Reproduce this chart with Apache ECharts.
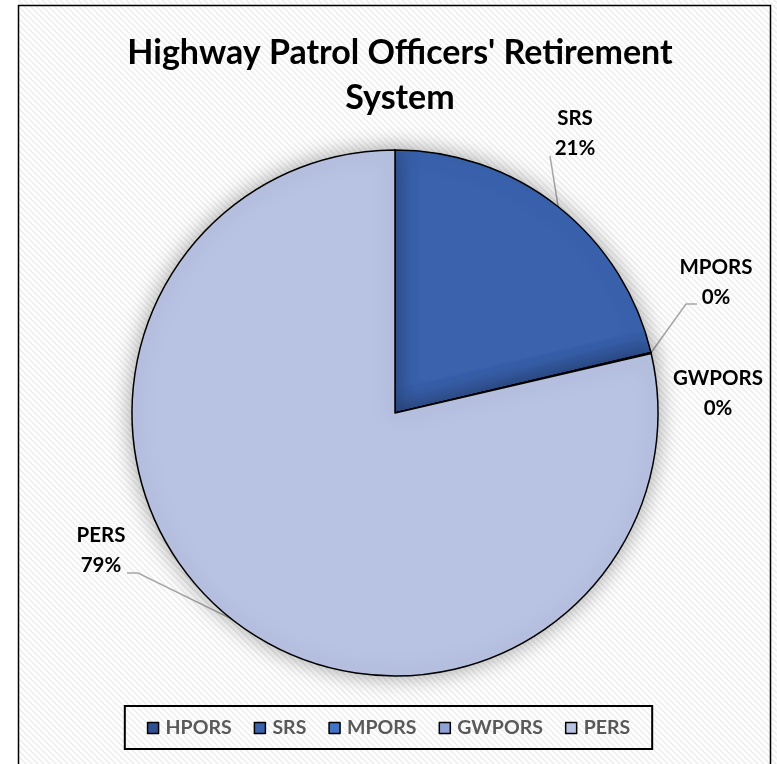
<!DOCTYPE html>
<html>
<head>
<meta charset="utf-8">
<script src="https://cdn.jsdelivr.net/npm/echarts@6/dist/echarts.min.js"></script>
<style>
  html, body { margin: 0; padding: 0; background: #fff; }
  #chart { width: 777px; height: 764px; }
</style>
</head>
<body>
<div id="chart"></div>
<script>
  // data
  const systems = ['HPORS', 'SRS', 'MPORS', 'GWPORS', 'PERS']
  const shares = [0, 21.3, 0.03, 0.03, 78.6]
  const colors = ['#2f5192', '#3a62ad', '#4472c4', '#8fa2d6', '#b8c2e2']

  const font = 'Lato'

  // where each slice label sits, and whether a leader line bends
  const labelSpots = {
    SRS: { x: 575, y: 133, line: 'straight', end: [550, 156] },
    MPORS: { x: 716, y: 282, line: 'bent', end: [686, 304], tail: [697, 304] },
    GWPORS: { x: 718, y: 393, line: 'none' },
    PERS: { x: 101, y: 550, line: 'bent', end: [138, 573], tail: [127, 573] }
  }

  // faint diagonal hatch like the excel chart area
  function hatch() {
    const c = document.createElement('canvas')
    c.width = 6
    c.height = 6
    const ctx = c.getContext('2d')
    ctx.fillStyle = '#ffffff'
    ctx.fillRect(0, 0, 6, 6)
    ctx.strokeStyle = '#efefef'
    ctx.lineWidth = 1.6
    ctx.beginPath()
    ctx.moveTo(-3, -3); ctx.lineTo(9, 9)
    ctx.moveTo(-3, 3); ctx.lineTo(3, 9)
    ctx.moveTo(3, -3); ctx.lineTo(9, 3)
    ctx.stroke()
    return c
  }

  const chart = echarts.init(document.getElementById('chart'), null, { renderer: 'canvas' })

  const pieData = systems.map((name, i) => ({
    name,
    value: shares[i],
    itemStyle: { color: colors[i] },
    label: { show: shares[i] > 0 },
    labelLine: { show: shares[i] > 0 && labelSpots[name] && labelSpots[name].line !== 'none' }
  }))

  chart.setOption({
    backgroundColor: { image: hatch(), repeat: 'repeat' },
    animation: false,
    graphic: [
      { type: 'rect', shape: { x: 0, y: 0, width: 18, height: 764 }, style: { fill: '#fff' }, z: -1 },
      {
        type: 'rect',
        shape: { x: 18.5, y: 5.5, width: 752, height: 780 },
        style: { fill: 'none', stroke: '#000', lineWidth: 1.5 },
        silent: true
      }
    ],
    title: {
      text: "Highway Patrol Officers' Retirement\nSystem",
      left: 395,
      textAlign: 'center',
      top: 26,
      textStyle: {
        fontFamily: font,
        fontSize: 34,
        fontWeight: 'bold',
        color: '#000',
        lineHeight: 45
      }
    },
    legend: {
      data: systems,
      left: 'center',
      top: 706,
      icon: 'rect',
      itemWidth: 11,
      itemHeight: 11,
      itemGap: 22,
      padding: [12, 22, 11, 22],
      borderColor: '#000',
      borderWidth: 2,
      itemStyle: { borderColor: '#000', borderWidth: 1.5 },
      textStyle: { fontFamily: font, fontSize: 19.5, fontWeight: 'bold', color: '#595959', padding: [0, 0, 0, 2] }
    },
    series: [{
      type: 'pie',
      center: [395, 413],
      radius: 263,
      startAngle: 90,
      clockwise: true,
      avoidLabelOverlap: false,
      itemStyle: {
        borderColor: '#000',
        borderWidth: 1.5,
        shadowBlur: 22,
        shadowColor: 'rgba(0,0,0,0.35)'
      },
      emphasis: { disabled: true },
      label: {
        formatter: p => p.name + '\n' + Math.round(p.percent) + '%',
        fontFamily: font,
        fontSize: 20.5,
        fontWeight: 'bold',
        color: '#000',
        lineHeight: 30,
        align: 'center'
      },
      labelLine: {
        lineStyle: { color: '#a6a6a6', width: 1.5 }
      },
      labelLayout: function (params) {
        const name = systems[params.dataIndex]
        const spot = labelSpots[name]
        if (!spot) return {}
        const out = { x: spot.x, y: spot.y, align: 'center', verticalAlign: 'middle' }
        const start = params.labelLinePoints ? params.labelLinePoints[0] : null
        if (start && spot.line === 'straight') {
          out.labelLinePoints = [start, spot.end, spot.end]
        } else if (start && spot.line === 'bent') {
          out.labelLinePoints = [start, spot.end, spot.tail]
        }
        return out
      },
      data: pieData
    }]
  })
</script>
</body>
</html>
